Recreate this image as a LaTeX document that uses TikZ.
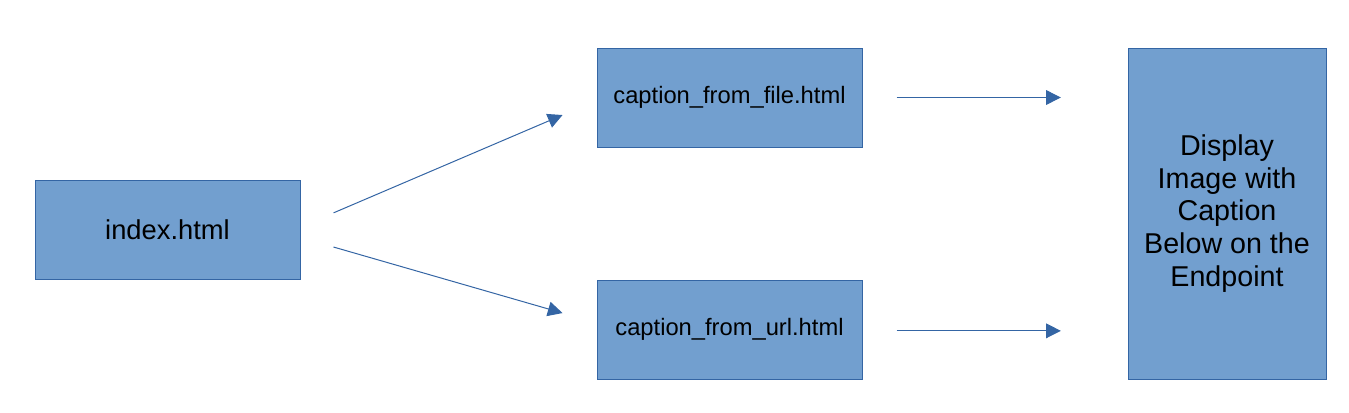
\documentclass[tikz,border=0pt]{standalone}
\usepackage{fontspec}
\setmainfont{Liberation Sans}
\usetikzlibrary{arrows.meta,positioning}
\definecolor{BoxFill}{HTML}{729FCF}
\definecolor{BoxEdge}{HTML}{3465A4}

\begin{document}
\begin{tikzpicture}[x=0.75pt,y=-0.75pt,
  box/.style={draw=BoxEdge,fill=BoxFill,line width=0.75pt,inner sep=0pt,align=center,text=black},
  flow/.style={draw=BoxEdge,line width=0.75pt,-{Triangle[length=11pt,width=11pt]}}]
  \useasboundingbox (0,0) rectangle (1349,412);
  % pages
  \node[box,minimum width=198.75pt,minimum height=74.25pt,font=\fontsize{20.5}{24}\selectfont] (index) at (167.5,229.5) {index.html};
  \node[box,minimum width=198.75pt,minimum height=74.25pt,font=\fontsize{17.8}{21}\selectfont] (cfile) at (729.5,97.5) {caption\_from\_file.html};
  \node[box,minimum width=198.75pt,minimum height=74.25pt,font=\fontsize{17.8}{21}\selectfont] (curl) at (729.5,329.5) {caption\_from\_url.html};
  \node[box,minimum width=148.5pt,minimum height=248.25pt,font=\fontsize{21.5}{24.5}\selectfont] (disp) at (1227,213.5)
    {Display\\Image with\\Caption\\Below on the\\Endpoint};
  % links
  \draw[flow,shorten <=27pt,shorten >=27.7pt] ([yshift=1.9pt]index.east) -- ([yshift=-2.25pt]cfile.west);
  \draw[flow,shorten <=25.7pt,shorten >=26.5pt] ([yshift=-6pt]index.east) -- ([yshift=5pt]curl.west);
  \draw[flow,shorten <=25.5pt,shorten >=50pt] (cfile.east) -- (cfile.east -| disp.west);
  \draw[flow,shorten <=25.5pt,shorten >=50pt] ([yshift=-1pt]curl.east) -- ([yshift=-1pt]curl.east -| disp.west);
\end{tikzpicture}
\end{document}
